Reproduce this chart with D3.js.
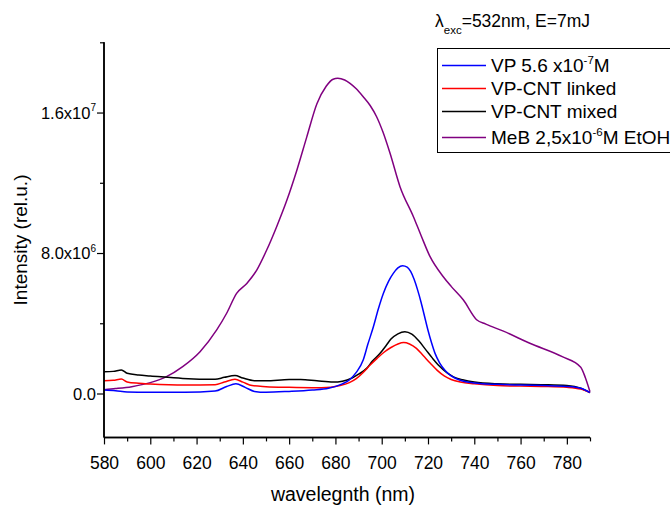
<!DOCTYPE html>
<html><head><meta charset="utf-8">
<script src="https://cdn.jsdelivr.net/npm/d3@7"></script>
<style>body{margin:0;background:#fff}text{font-family:Arial,"Liberation Sans",sans-serif}</style>
</head><body>
<script>
// ---- data (intensity in rel.u.) ----
const vpWl  = [580,585,590,600,615,628,633,637,641,645,650,660,670,677,683,686,689,692,694,696.4,698.5,700.7,703,705,707,709,711,712.5,714,715.5,717,718.5,720,721.5,723,725,727.5,730,734,740,750,760,770,780,786,790];
const vpVal = [0.20,0.16,0.08,0.07,0.07,0.14,0.40,0.55,0.35,0.12,0.07,0.12,0.20,0.30,0.55,0.77,1.2,1.91,2.8,3.8,4.8,5.7,6.4,6.84,7.15,7.28,7.2,6.95,6.5,5.9,5.2,4.4,3.6,2.9,2.3,1.75,1.3,1.0,0.75,0.6,0.52,0.48,0.45,0.40,0.30,0.05].map(v=>v*1e6);
const linkWl  = [580,584,587.5,590,595,600,615,628,632,636.6,640,644,650,660,670,678,682,686,689,692,695,698,701,704,707,709.5,712,715,718,721,724,727,730,734,740,750,760,770,780,786,790];
const linkVal = [0.73,0.75,0.82,0.66,0.58,0.54,0.48,0.50,0.65,0.81,0.65,0.45,0.39,0.35,0.33,0.36,0.45,0.62,0.85,1.2,1.62,2.0,2.35,2.62,2.82,2.9,2.82,2.57,2.15,1.72,1.32,1.0,0.8,0.65,0.55,0.45,0.42,0.40,0.35,0.25,0.05].map(v=>v*1e6);
const mixWl  = [580,584,587.5,590,595,600,614,628,632,636.6,640,645,650,660,665,672,679,683,687,690,693.5,696,699.3,702,704,707,710,713,716,719,722,725,728,731,735,740,750,760,770,780,786,790];
const mixVal = [1.24,1.26,1.34,1.15,1.05,1.0,0.86,0.81,0.92,1.02,0.88,0.73,0.72,0.80,0.80,0.72,0.65,0.70,0.87,1.1,1.43,1.85,2.29,2.75,3.1,3.4,3.52,3.38,3.0,2.5,2.0,1.55,1.2,0.95,0.78,0.65,0.55,0.52,0.50,0.45,0.30,0.05].map(v=>v*1e6);
const mebWl  = [580,585,592,600,607,614,621.5,628.7,633,637.3,641.7,646,650.3,654.6,659,663.3,667.6,672,676,679,681,684,686.3,689,692,695,697.8,700.5,703.6,707.9,713.7,717,720.9,726.6,730,735.3,741,745,752.6,764,778,786,788,790];
const mebVal = [0.22,0.28,0.39,0.62,0.96,1.53,2.38,3.62,4.57,5.7,6.27,7.03,8.17,9.5,11.0,12.7,14.6,16.5,17.5,17.9,17.95,17.85,17.66,17.35,16.9,16.4,15.76,14.9,13.68,11.78,10.07,9.0,7.79,6.65,6.1,5.32,4.2,3.95,3.55,2.86,2.1,1.5,0.9,0.1].map(v=>v*1e6);

const seriesNames = ["VP 5.6 x10|-7|M","VP-CNT linked","VP-CNT mixed","MeB 2,5x10|-6|M EtOH"];
const seriesColors = ["#0000ff","#ff0000","#000000","#800080"];
const xMajor = [580,600,620,640,660,680,700,720,740,760,780];
const xMinor = [590,610,630,650,670,690,710,730,750,770,790];
const yMajor = [0,8e6,1.6e7];
const yMajorLabels = [["0.0",""],["8.0x10","6"],["1.6x10","7"]];
const yMinor = [4e6,1.2e7,2.0e7];

const W=670,H=505;
const svg=d3.select("body").append("svg").attr("width",W).attr("height",H);
const x=d3.scaleLinear().domain([580,790]).range([104,590]);
const y=d3.scaleLinear().domain([-2.5e6,2.0e7]).range([437.4,42.3]);

const series=[[vpWl,vpVal],[linkWl,linkVal],[mixWl,mixVal],[mebWl,mebVal]];
const line=d3.line().x(d=>x(d[0])).y(d=>y(d[1])).curve(d3.curveMonotoneX);
[3,2,1,0].forEach(i=>{
  const [w,v]=series[i];
  svg.append("path").datum(w.map((d,k)=>[d,v[k]])).attr("d",line)
    .attr("fill","none").attr("stroke",seriesColors[i]).attr("stroke-width",1.5);
});

// axes
const gx=svg.append("g").attr("transform",`translate(0,${y.range()[0]})`);
gx.call(d3.axisBottom(x).tickValues(xMajor).tickSize(7).tickFormat(d3.format("d")));
gx.append("g").call(d3.axisBottom(x).tickValues(xMinor).tickSize(4).tickFormat(""));
gx.selectAll("path.domain").attr("d",`M${x.range()[0]},0H${x.range()[1]}`).attr("stroke","#000").attr("stroke-width",1.5);
gx.selectAll("line").attr("stroke","#000").attr("stroke-width",1.2);
gx.selectAll("text").attr("font-size",17.5).attr("fill","#000").attr("y",32).attr("dy",0).attr("font-family","Arial, Liberation Sans, sans-serif");

const gy=svg.append("g").attr("transform",`translate(${x.range()[0]},0)`);
gy.call(d3.axisLeft(y).tickValues(yMajor).tickSize(7).tickFormat(""));
gy.append("g").call(d3.axisLeft(y).tickValues(yMinor).tickSize(4).tickFormat(""));
gy.selectAll("path.domain").attr("d",`M0,${y.range()[0]}V${y.range()[1]}`).attr("stroke","#000").attr("stroke-width",1.5);
gy.selectAll("line").attr("stroke","#000").attr("stroke-width",1.2);
yMajor.forEach((v,i)=>{
  const t=svg.append("text").attr("x",96).attr("y",y(v)).attr("dy","0.38em")
    .attr("text-anchor","end").attr("font-size",16.5).attr("fill","#000");
  t.append("tspan").text(yMajorLabels[i][0]);
  if(yMajorLabels[i][1]) t.append("tspan").attr("font-size",10).attr("dy","-0.75em").text(yMajorLabels[i][1]);
});

// axis titles
svg.append("text").attr("x",343).attr("y",501).attr("text-anchor","middle").attr("font-size",19.5).text("wavelegnth (nm)");
svg.append("text").attr("transform","translate(27,240) rotate(-90)").attr("text-anchor","middle").attr("font-size",19).text("Intensity (rel.u.)");

// annotation
const an=svg.append("text").attr("x",435).attr("y",27).attr("font-size",17.5);
an.append("tspan").text("λ");
an.append("tspan").attr("font-size",11.5).attr("dy",7).text("exc");
an.append("tspan").attr("dy",-7).text("=532nm, E=7mJ");

// legend
const lg=svg.append("g");
lg.append("rect").attr("x",437.5).attr("y",48.5).attr("width",260).attr("height",104)
  .attr("fill","#fff").attr("stroke","#000").attr("stroke-width",1);
const rowsY=[65.5,88.5,111.5,137.5];
seriesNames.forEach((n,i)=>{
  lg.append("line").attr("x1",442).attr("x2",486).attr("y1",rowsY[i]).attr("y2",rowsY[i])
    .attr("stroke",seriesColors[i]).attr("stroke-width",1.5);
  const t=lg.append("text").attr("x",491).attr("y",rowsY[i]).attr("dy","0.36em").attr("font-size",19);
  const parts=n.split("|");
  t.append("tspan").text(parts[0]);
  if(parts.length>1){
    t.append("tspan").attr("font-size",11.5).attr("dy",-8).text(parts[1]);
    t.append("tspan").attr("dy",8).text(parts[2]);
  }
});
</script>
</body></html>
